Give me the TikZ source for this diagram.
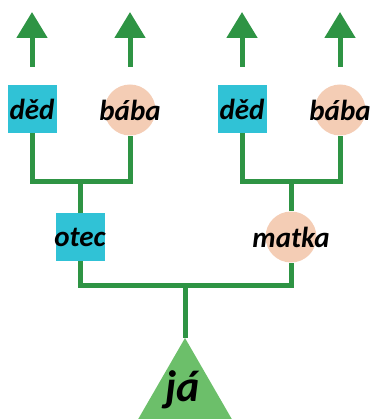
\documentclass[tikz,border=0pt]{standalone}
\usepackage{fontspec}
\setmainfont{Carlito}
\usepackage{xcolor}
\definecolor{LineGreen}{HTML}{2E9444}
\definecolor{MeGreen}{HTML}{6CBF6A}
\definecolor{MaleCyan}{HTML}{30C2D6}
\definecolor{FemalePeach}{HTML}{F4CDB5}
\usepackage{tikz}
\usetikzlibrary{shapes.geometric, arrows.meta, positioning, calc}
\newcommand{\lbl}[1]{\makebox[0pt]{#1}}
\tikzset{
  % Person styles
  malebox/.style={rectangle, draw=none, fill=MaleCyan, minimum width=49pt, minimum height=48pt, inner sep=0pt, font=\fontsize{29}{29}\selectfont\bfseries\itshape},
  femalecircle/.style={circle, draw=none, fill=FemalePeach, minimum size=51pt, inner sep=0pt, font=\fontsize{29}{29}\selectfont\bfseries\itshape},
  metriangle/.style={regular polygon, regular polygon sides=3, fill=MeGreen, minimum size=108pt, inner sep=0pt},
  metext/.style={font=\fontsize{44}{44}\selectfont\bfseries\itshape},
  % Line styles
  link/.style={draw=LineGreen, line width=5pt, line join=miter},
  uparrow/.style={-{Triangle[width=30pt,length=26pt]}, draw=LineGreen, fill=LineGreen, line width=5pt}
}
\begin{document}
\begin{tikzpicture}[x=1pt, y=-1pt]
  \useasboundingbox (0,0) rectangle (374,419);
  \clip (0,0) rectangle (374,419);

  % Grandparents
  \node[malebox] (dedo) at (32,109) {\lbl{děd}};
  \node[femalecircle] (babao) at (130,110) {\lbl{bába}};
  \node[malebox] (dedm) at (242,109) {\lbl{děd}};
  \node[femalecircle] (babam) at (340,110) {\lbl{bába}};

  % Parents
  \node[malebox] (otec) at (80,237) {\lbl{otec}};
  \node[femalecircle] (matka) at (291,237) {\lbl{matka}};

  % Me
  \node[metriangle] (me) at (185,392) {};
  \node[metext] (jatext) at (183,390) {já};

  % Junctions
  \coordinate (jo) at (80,182);
  \coordinate (jm) at (291,182);
  \coordinate (jp) at (185,285);

  \draw[link] (dedo.south) |- (jo) -| (babao.south);
  \draw[link] (jo) -- (otec.north);
  \draw[link] (dedm.south) |- (jm) -| (babam.south);
  \draw[link] (jm) -- (matka.north);
  \draw[link] (otec.south) |- (jp) -| (matka.south);
  \draw[link] (jp) -- (me.corner 1);

  % Arrows to older generations
  \foreach \n in {dedo, babao, dedm, babam} {
    \coordinate (\n-tail) at ($(\n.center |- 0,67)$);
    \coordinate (\n-tip) at ($(\n.center |- 0,12)$);
    \draw[uparrow] (\n-tail) -- (\n-tip);
  }
\end{tikzpicture}
\end{document}
